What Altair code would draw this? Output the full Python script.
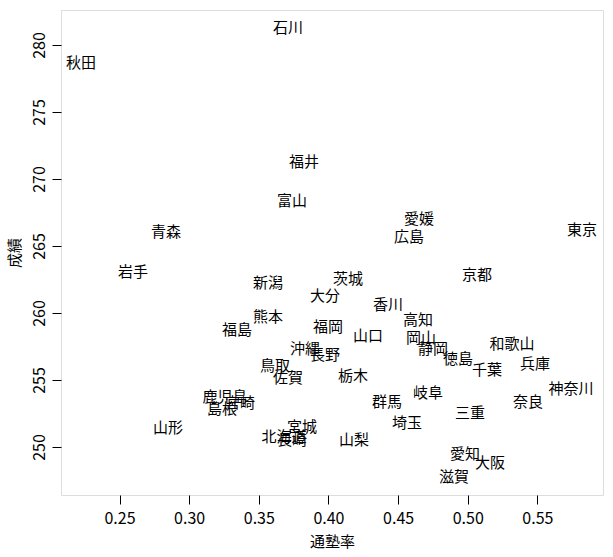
import altair as alt
import pandas as pd

prefs = ["石川", "秋田", "福井", "富山", "青森", "愛媛", "広島", "東京", "岩手", "新潟",
         "茨城", "京都", "大分", "香川", "熊本", "高知", "福島", "福岡", "山口", "岡山",
         "和歌山", "静岡", "沖縄", "長野", "徳島", "兵庫", "鳥取", "千葉", "佐賀", "栃木",
         "神奈川", "岐阜", "鹿児島", "宮崎", "群馬", "奈良", "島根", "三重", "埼玉", "山形",
         "宮城", "北海道", "長崎", "山梨", "愛知", "大阪", "滋賀"]
juku = [0.371, 0.2224, 0.3824, 0.3738, 0.2834, 0.4650, 0.4578, 0.5820, 0.2597, 0.3566,
        0.4140, 0.5066, 0.3975, 0.4428, 0.3566, 0.4643, 0.3344, 0.3997, 0.4284, 0.4664,
        0.5318, 0.4751, 0.3832, 0.3975, 0.4930, 0.5483, 0.3616, 0.5138, 0.3710, 0.4176,
        0.5741, 0.4715, 0.3257, 0.3365, 0.4420, 0.5433, 0.3236, 0.5016, 0.4564, 0.2848,
        0.3810, 0.3681, 0.3738, 0.4183, 0.4980, 0.5159, 0.4901]
score = [281.3, 278.66, 271.27, 268.36, 266.04, 267.01, 265.67, 266.19, 263.06, 262.24,
         262.54, 262.84, 261.27, 260.60, 259.70, 259.48, 258.73, 258.96, 258.28, 258.13,
         257.69, 257.31, 257.31, 256.87, 256.57, 256.19, 256.04, 255.75, 255.15, 255.30,
         254.33, 254.03, 253.73, 253.28, 253.36, 253.36, 252.84, 252.54, 251.79, 251.42,
         251.49, 250.75, 250.52, 250.52, 249.48, 248.81, 247.76]

x_ticks = [0.25, 0.30, 0.35, 0.40, 0.45, 0.50, 0.55]
y_ticks = [250, 255, 260, 265, 270, 275, 280]

df = pd.DataFrame({"pref": prefs, "juku": juku, "score": score})

FONT = "Noto Sans CJK JP"

chart = alt.Chart(df).mark_text(
    fontSize=15, font=FONT, color="black", align="center", baseline="middle"
).encode(
    x=alt.X("juku:Q", title="通塾率",
            scale=alt.Scale(domain=[0.2080, 0.5971], nice=False, zero=False),
            axis=alt.Axis(values=x_ticks, format=".2f", grid=False, domain=False,
                          tickSize=9, tickColor="black", labelPadding=6,
                          labelFontSize=16, labelFont=FONT, labelColor="black",
                          titleFontSize=15, titleFont=FONT, titleFontWeight="normal",
                          titleColor="black", titleY=46, titleBaseline="middle")),
    y=alt.Y("score:Q", title="成績",
            scale=alt.Scale(domain=[246.418, 282.612], nice=False, zero=False),
            axis=alt.Axis(values=y_ticks, grid=False, domain=False,
                          tickSize=9, tickColor="black", labelPadding=5,
                          labelAngle=270, labelAlign="center", labelBaseline="bottom",
                          labelFontSize=16, labelFont=FONT, labelColor="black",
                          titleFontSize=15, titleFont=FONT, titleFontWeight="normal",
                          titleColor="black", titleAngle=270, titleX=-47,
                          titleBaseline="middle")),
    text="pref:N",
).properties(
    width=542, height=485,
    autosize=alt.AutoSizeParams(type="none"),
    padding={"left": 61, "top": 10, "right": 10, "bottom": 62},
).configure_view(
    stroke="black", strokeWidth=1
).configure(background="white")

chart.save("out.html", embed_options={"renderer": "svg", "actions": False})
